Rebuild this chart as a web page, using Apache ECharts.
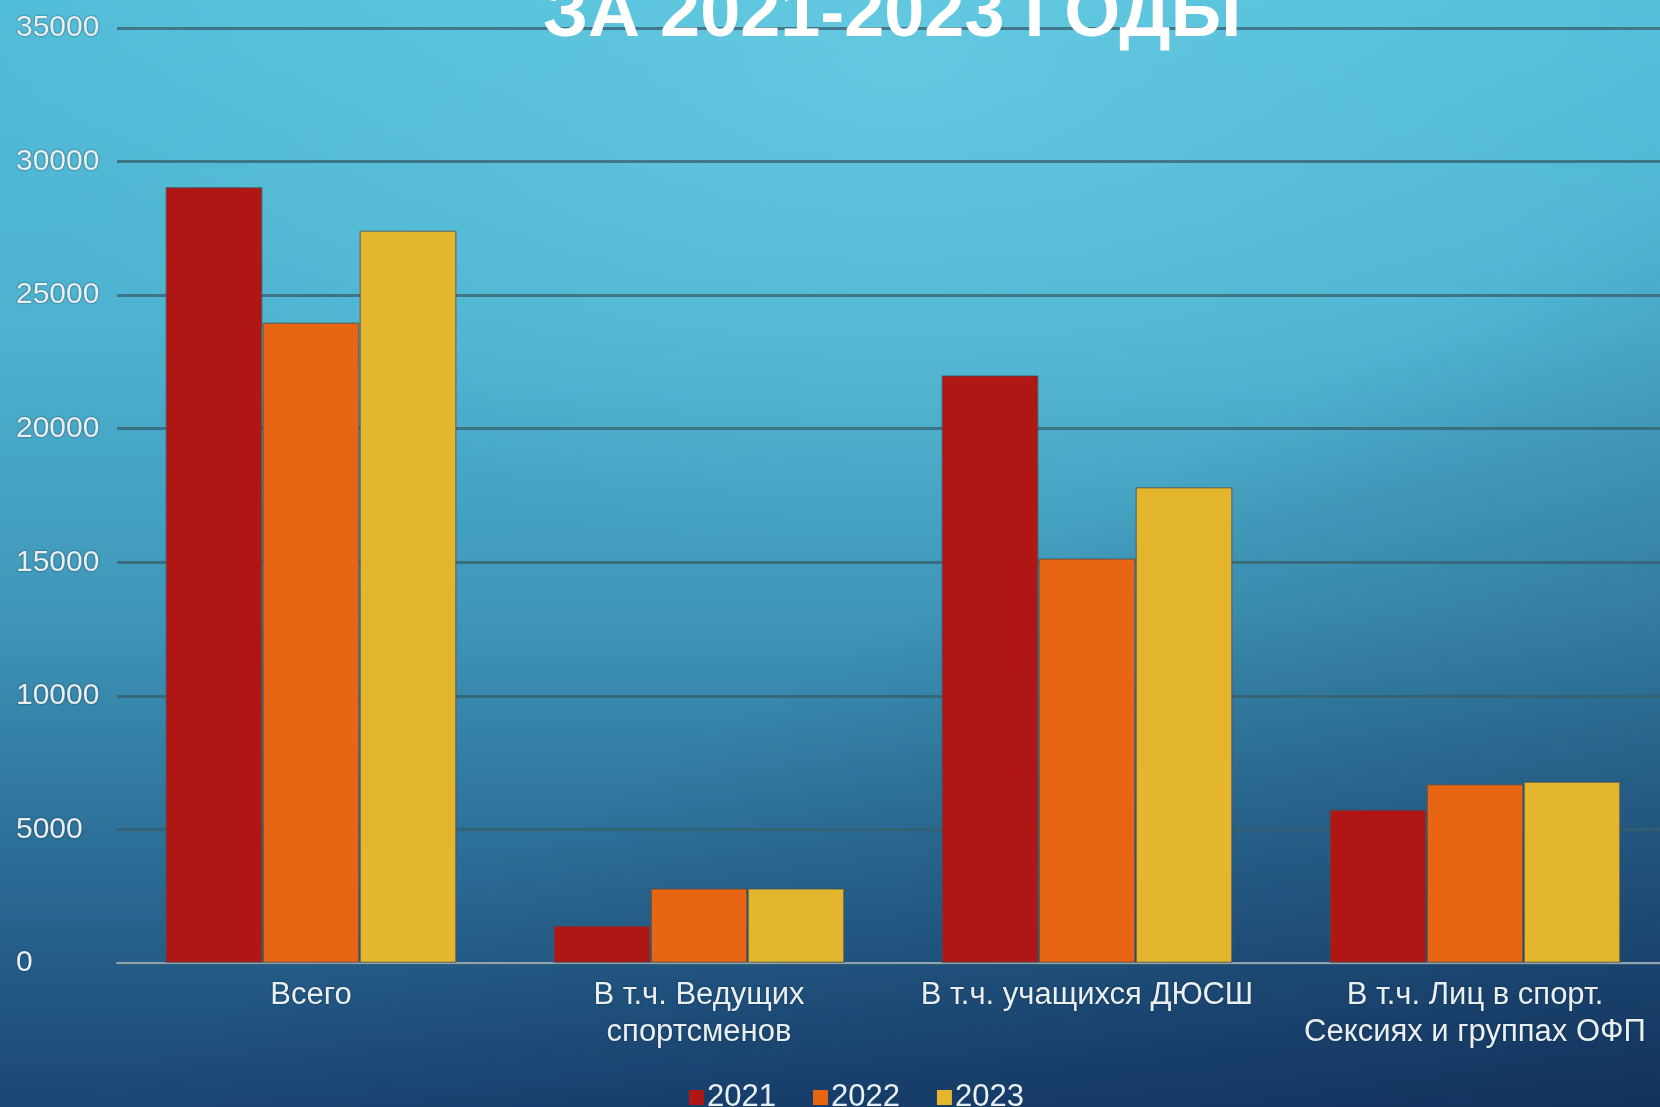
<!DOCTYPE html>
<html>
<head>
<meta charset="UTF-8">
<title>Занимающиеся 2021-2023</title>
<script type="text/javascript" src="https://cdn.jsdelivr.net/npm/echarts@6/dist/echarts.min.js"></script>
<style type="text/css">
html, body {
	margin: 0;
	padding: 0;
	overflow: hidden;
}
#chart_bg {
	width: 1660px;
	height: 1107px;
	overflow: hidden;
	background:
		radial-gradient(ellipse 900px 500px at 900px 60px, rgba(120, 215, 235, 0.45), rgba(120, 215, 235, 0) 100%),
		linear-gradient(150deg, rgba(0, 0, 0, 0) 55%, rgba(8, 25, 65, 0.45) 100%),
		linear-gradient(to bottom, #52bdd8 0%, #4db2cf 30%, #3f97b9 55%, #2b6c95 78%, #1b4674 100%);
}
/* chart is a bit wider than the window: the last bar group runs to the right edge */
#main_chart {
	width: 1690px;
	height: 1107px;
}
</style>
</head>
<body>
	<div id="chart_bg">
		<div id="main_chart"></div>
	</div>
</body>
<script type="text/javascript">
	var categories = ['Всего', 'В т.ч. Ведущих\nспортсменов', 'В т.ч. учащихся ДЮСШ', 'В т.ч. Лиц в спорт.\nСексиях и группах ОФП'];
	var years = ['2021', '2022', '2023'];
	var values2021 = [29050, 1400, 22000, 5750];
	var values2022 = [23980, 2800, 15150, 6700];
	var values2023 = [27420, 2800, 17820, 6790];
	var yearColors = ['#b01614', '#e86513', '#e4b62d'];

	var textFont = '"Liberation Sans", Arial, sans-serif';
	var lightText = '#e9f0f2';

	function initChart() {
		var myChart = echarts.init(document.getElementById('main_chart'));
		var seriesData = [values2021, values2022, values2023];
		var series = [];
		for (var i = 0; i < years.length; i++) {
			series.push({
				name : years[i],
				type : 'bar',
				data : seriesData[i],
				barGap : '0%',
				barCategoryGap : '25%',
				itemStyle : {
					color : yearColors[i],
					borderColor : 'rgba(70, 80, 85, 0.55)',
					borderWidth : 1.5
				}
			});
		}
		var option = {
			backgroundColor : 'transparent',
			animation : false,
			title : {
				text : 'ЗА 2021-2023 ГОДЫ',
				left : 538,
				top : -25,
				textStyle : {
					color : '#ffffff',
					fontFamily : textFont,
					fontWeight : 'bold',
					fontSize : 72
				}
			},
			legend : {
				data : years,
				left : 684,
				top : 1077,
				icon : 'rect',
				itemWidth : 15,
				itemHeight : 15,
				itemGap : 37,
				itemStyle : {
					borderWidth : 0
				},
				textStyle : {
					color : lightText,
					fontFamily : textFont,
					fontSize : 31,
					padding : [0, 0, 0, -2]
				}
			},
			grid : {
				left : 117,
				width : 1552,
				top : 28,
				bottom : 144,
				containLabel : false
			},
			xAxis : {
				type : 'category',
				data : categories,
				axisLine : {
					lineStyle : {
						color : '#8fa3b2',
						width : 2
					}
				},
				axisTick : {
					show : false
				},
				axisLabel : {
					interval : 0,
					margin : 14,
					color : lightText,
					fontFamily : textFont,
					fontSize : 31,
					lineHeight : 37,
					textShadowColor : 'rgba(20, 40, 60, 0.8)',
					textShadowBlur : 2
				}
			},
			yAxis : {
				type : 'value',
				min : 0,
				max : 35000,
				interval : 5000,
				axisLine : {
					show : false
				},
				axisTick : {
					show : false
				},
				axisLabel : {
					align : 'left',
					margin : 101,
					formatter : function(v) {
						return String(v);
					},
					color : lightText,
					fontFamily : textFont,
					fontSize : 30,
					textShadowColor : 'rgba(20, 40, 60, 0.8)',
					textShadowBlur : 2
				},
				splitLine : {
					lineStyle : {
						color : 'rgba(55, 95, 110, 0.75)',
						width : 3
					}
				}
			},
			series : series
		};
		myChart.setOption(option);
	}
	initChart();
</script>
</html>
